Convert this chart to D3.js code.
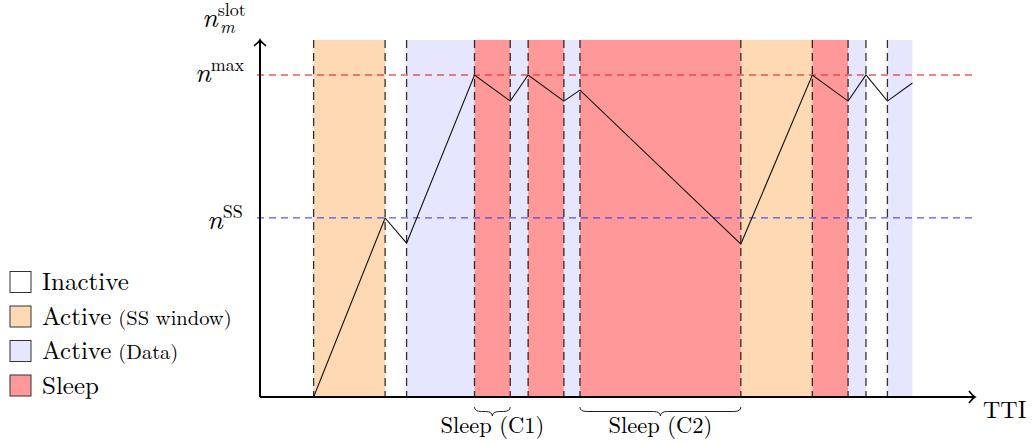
<!DOCTYPE html>
<html lang="en">
<head>
    <meta charset="UTF-8">
    <title>Slot occupancy over TTI</title>
    <script src="https://d3js.org/d3.v7.min.js"></script>
    <style>
        body{ margin: 0; background: #fff; }
        svg{ display: block; }
    </style>
</head>
<body>
<script>

    // TTI boundaries of each period (and line vertices)
    const boundaries = [3, 7, 8.2, 12, 14, 15, 17, 17.9, 26.9, 30.9, 32.9, 33.9, 35.1, 36.5]
    // state of each period between two boundaries
    const periods = ["ss", "inactive", "data", "sleep", "data", "sleep", "data", "sleep",
                     "ss", "sleep", "data", "inactive", "data"]
    // n_m^slot at each boundary (n^max = 1)
    const load = [0, 0.556, 0.478, 1, 0.919, 1, 0.919, 0.953, 0.475, 1, 0.919, 1, 0.919, 0.975]
    const nMax = 1
    const nSS = 0.556
    const braces = [
        {label: "Sleep (C1)", from: 12, to: 14},
        {label: "Sleep (C2)", from: 17.9, to: 26.9}
    ]
    const legendKeys = ["inactive", "ss", "data", "sleep"]
    const legendMain = ["Inactive", "Active", "Active", "Sleep"]
    const legendNote = ["", "(SS window)", "(Data)", ""]

    const colors = {inactive: "#ffffff", ss: "#ffd9b3", data: "#e6e6ff", sleep: "#ff9999"}

    const svgSize = {width: 1033, height: 445}
    const svg = d3.select("body").append("svg")
        .attr("width", svgSize.width)
        .attr("height", svgSize.height)
        .attr("viewBox", [0, 0, svgSize.width, svgSize.height])
        .attr("font-family", "Latin Modern Roman, Liberation Serif, serif")

    const x = d3.scaleLinear().domain([0, 40]).range([260, 975])
    const y = d3.scaleLinear().domain([0, 1]).range([397, 75])
    const yTop = 1.109

    // coloured periods
    const spans = periods.map((p, i) => ({state: p, a: boundaries[i], b: boundaries[i + 1]}))
    svg.append("g").selectAll("rect")
        .data(spans.filter(d => d.state !== "inactive"))
        .join("rect")
        .attr("x", d => x(d.a))
        .attr("width", d => x(d.b) - x(d.a))
        .attr("y", y(yTop))
        .attr("height", y(0) - y(yTop))
        .attr("fill", d => colors[d.state])

    // reference levels
    const levels = [{v: nMax, c: "#e83c3c"}, {v: nSS, c: "#3a3aff"}]
    svg.append("g").selectAll("line")
        .data(levels)
        .join("line")
        .attr("x1", 257).attr("x2", 975)
        .attr("y1", d => y(d.v)).attr("y2", d => y(d.v))
        .attr("stroke", d => d.c)
        .attr("stroke-opacity", 0.85)
        .attr("stroke-width", 1.3)
        .attr("stroke-dasharray", "7,5")

    // vertical dashed boundaries
    svg.append("g").selectAll("line")
        .data(boundaries.slice(0, -1))
        .join("line")
        .attr("x1", d => x(d)).attr("x2", d => x(d))
        .attr("y1", y(yTop)).attr("y2", y(0))
        .attr("stroke", "#000")
        .attr("stroke-opacity", 0.8)
        .attr("stroke-width", 1.3)
        .attr("stroke-dasharray", "8,5")

    // load line
    const line = d3.line().x((d, i) => x(boundaries[i])).y(d => y(d))
    svg.append("path")
        .attr("d", line(load))
        .attr("fill", "none")
        .attr("stroke", "#111")
        .attr("stroke-width", 1.1)

    // axes with arrows
    const ax = svg.append("g").attr("stroke", "#000").attr("fill", "none")
    ax.append("path")
        .attr("d", `M${x(0)},${y(0)} H${x(40) - 1} M${x(0)},${y(0)} V${y(yTop) + 1}`)
        .attr("stroke-width", 2)
    ax.append("path")
        .attr("d", `M${x(40) - 6},${y(0) - 6} Q${x(40) - 2},${y(0) - 1} ${x(40)},${y(0)} Q${x(40) - 2},${y(0) + 1} ${x(40) - 6},${y(0) + 6}`)
        .attr("stroke-width", 1.6)
    ax.append("path")
        .attr("d", `M${x(0) - 6},${y(yTop) + 6} Q${x(0) - 1},${y(yTop) + 2} ${x(0)},${y(yTop)} Q${x(0) + 1},${y(yTop) + 2} ${x(0) + 6},${y(yTop) + 6}`)
        .attr("stroke-width", 1.6)

    svg.append("text")
        .attr("x", 983).attr("y", 418)
        .attr("font-size", 24)
        .text("TTI")

    // math labels on the y axis
    function mathLabel(xPos, yPos, sup, sub) {
        const t = svg.append("text").attr("x", xPos).attr("y", yPos)
        t.append("tspan").attr("font-style", "italic").attr("font-size", 28).text("n")
        t.append("tspan").attr("font-size", 18).attr("dy", -11).text(sup)
        if (sub) {
            t.append("tspan").attr("x", xPos + 18).attr("dy", 17)
                .attr("font-style", "italic").attr("font-size", 18).text(sub)
        }
        return t
    }
    mathLabel(195, y(nMax) + 7, "max")
    mathLabel(207, y(nSS) + 11, "SS")
    mathLabel(202, 27, "slot", "m")

    // braces under the sleep periods
    const braceG = svg.append("g")
    braces.forEach(b => {
        const x0 = x(b.from), x1 = x(b.to), m = (x0 + x1) / 2
        const y0 = 407, h = 4.5, r = Math.min(7, (x1 - x0) / 5)
        const d = `M${x0},${y0} q0,${h} ${r},${h} H${m - r} q${r},0 ${r},${h} q0,${-h} ${r},${-h} H${x1 - r} q${r},0 ${r},${-h}`
        braceG.append("path").attr("d", d).attr("fill", "none").attr("stroke", "#222").attr("stroke-width", 1)
        braceG.append("text")
            .attr("x", m).attr("y", 433)
            .attr("text-anchor", "middle")
            .attr("font-size", 22.5)
            .text(b.label)
    })

    // legend
    const leg = svg.append("g")
    legendKeys.forEach((k, i) => {
        const cy = 282 + i * 34.5
        leg.append("rect")
            .attr("x", 10).attr("y", cy - 10.5)
            .attr("width", 21).attr("height", 21)
            .attr("fill", colors[k])
            .attr("stroke", "#333").attr("stroke-width", 1)
        const t = leg.append("text").attr("x", 42).attr("y", cy + 8).attr("font-size", 25)
        t.append("tspan").text(legendMain[i])
        if (legendNote[i]) t.append("tspan").attr("font-size", 20.5).text(" " + legendNote[i])
    })

</script>
</body>
</html>
